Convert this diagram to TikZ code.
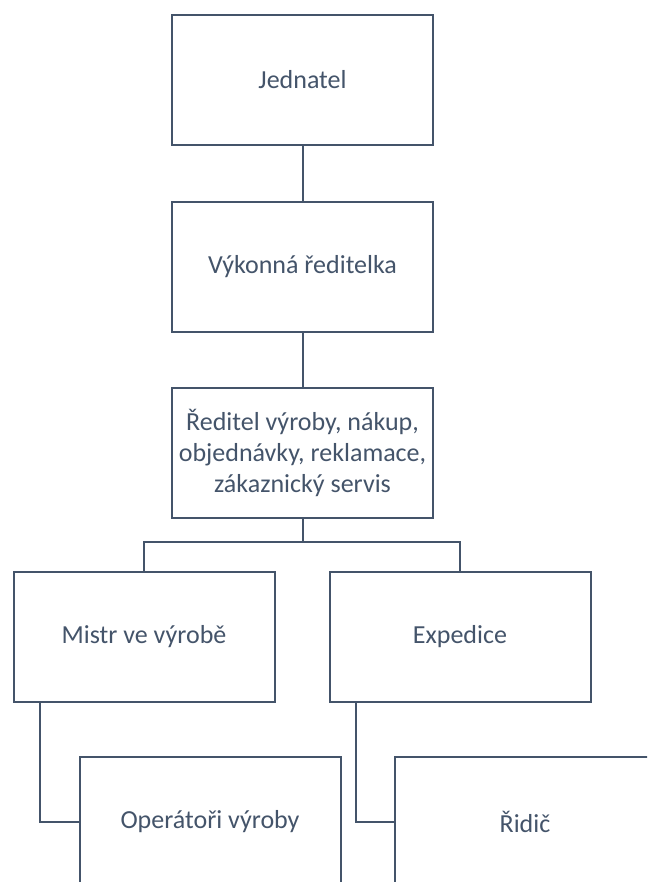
\documentclass[tikz,border=0pt]{standalone}
\usepackage{fontspec}
\setmainfont{Carlito}
\usetikzlibrary{positioning}
\definecolor{orgblue}{HTML}{44546A}
\tikzset{
  orgbox/.style={draw=orgblue, line width=2pt, fill=white, text=orgblue,
    minimum width=261pt, minimum height=130pt, align=center, inner sep=2pt,
    font=\fontsize{26}{31}\selectfont},
  orgline/.style={draw=orgblue, line width=2pt}
}
\begin{document}
\begin{tikzpicture}[x=1pt, y=-1pt]
  \useasboundingbox (0,0) rectangle (647,882);
  \clip (0,0) rectangle (647,882);
  \node[orgbox] (jed) at (302.5,80) {Jednatel};
  \node[orgbox, below=55pt of jed] (vyk) {Výkonná ředitelka};
  \node[orgbox, below=54pt of vyk] (red) {Ředitel výroby, nákup,\\objednávky, reklamace,\\zákaznický servis};
  \node[orgbox] (mistr) at (144,636.5) {Mistr ve výrobě};
  \node[orgbox] (exped) at (460,636.5) {Expedice};
  \node[orgbox] (oper) at (210,821.5) {Operátoři výroby};
  \node[orgbox] (ridic) at (525,821.5) {Řidič};
  \coordinate (bus) at (302.5,542);
  % connectors
  \draw[orgline] (jed) -- (vyk);
  \draw[orgline] (vyk) -- (red);
  \draw[orgline] (red) -- (bus);
  \draw[orgline] (mistr.north) |- (bus) -| (exped.north);
  \draw[orgline] ([xshift=27pt]mistr.south west) |- (oper.west);
  \draw[orgline] ([xshift=27pt]exped.south west) |- (ridic.west);
\end{tikzpicture}
\end{document}
